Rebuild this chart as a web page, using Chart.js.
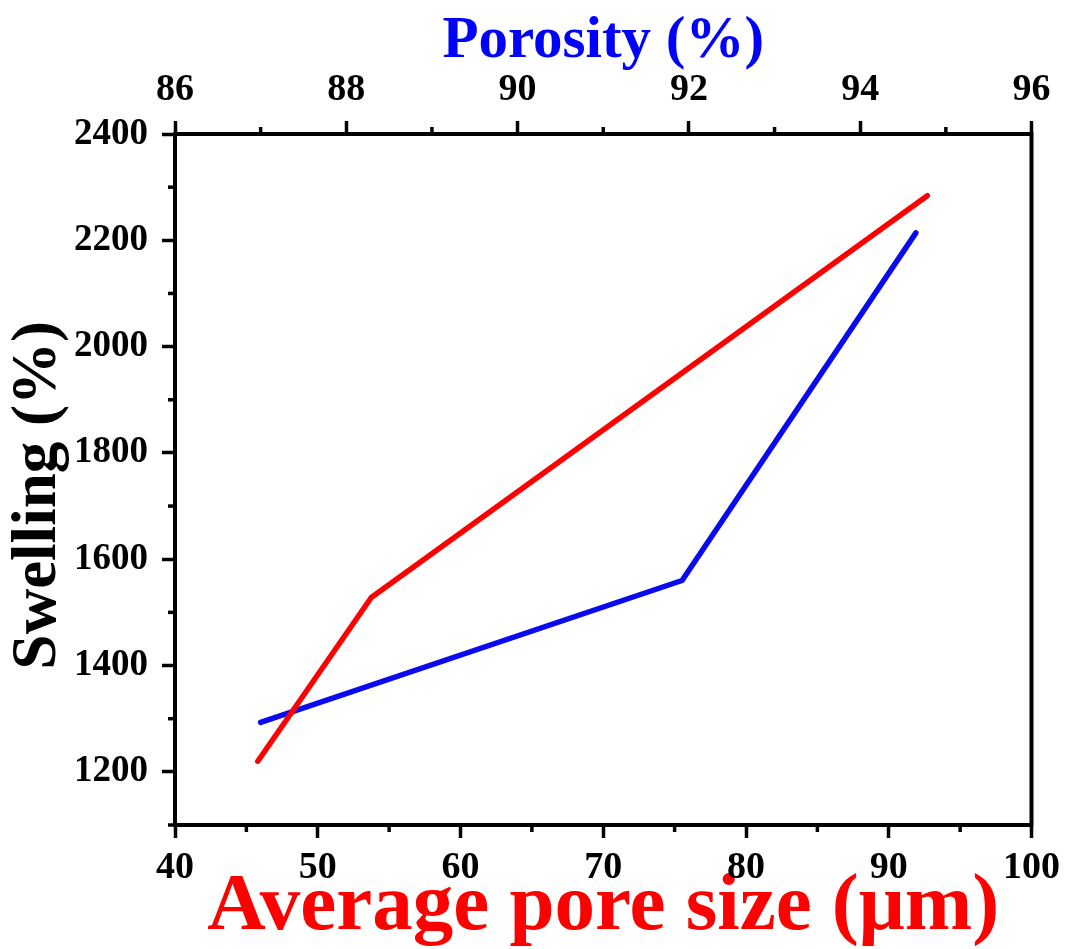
<!DOCTYPE html>
<html>
<head>
<meta charset="utf-8">
<script src="https://cdn.jsdelivr.net/npm/chart.js@4/dist/chart.umd.min.js"></script>
<style>
  html, body { margin: 0; padding: 0; background: #ffffff; }
  #wrap { width: 1067px; height: 949px; position: relative; }
</style>
</head>
<body>
<div id="wrap"><canvas id="chart"></canvas></div>
<script>
// Average pore size (µm) vs swelling (%)
const poreSize = [45.8, 53.75, 92.7];
const swellingByPore = [1220, 1528, 2284];

// Porosity (%) vs swelling (%)
const porosity = [87.0, 91.92, 94.65];
const swellingByPorosity = [1293, 1560, 2214];

// Axis ranges and tick steps
const poreRange = [40, 100], poreStep = 10;
const porosityRange = [86, 96], porosityStep = 2;
const swellingRange = [1100, 2400], swellingStep = 200;

const FONT = "'Liberation Serif', 'Times New Roman', serif";
const AXIS_W = 4;
const MAJOR_LEN = 13;
const MINOR_LEN = 7;

const toPoints = (xs, ys) => xs.map((x, i) => ({ x: x, y: ys[i] }));
const plainNumber = v => String(v);

// Minor ticks halfway between major ticks, plus the closed right-hand frame edge
const frameAndMinorTicks = {
  id: 'frameAndMinorTicks',
  afterDraw(chart) {
    const ctx = chart.ctx;
    const area = chart.chartArea;
    ctx.save();
    ctx.strokeStyle = '#000';
    ctx.lineWidth = AXIS_W;
    ctx.lineCap = 'butt';
    // right edge
    ctx.beginPath();
    ctx.moveTo(area.right, area.top - AXIS_W / 2);
    ctx.lineTo(area.right, area.bottom + AXIS_W / 2);
    ctx.stroke();

    ctx.lineWidth = 3.5;
    const minorValues = (scale, step) => {
      const vals = [];
      for (let v = scale.min + step / 2; v < scale.max; v += step) vals.push(v);
      return vals;
    };
    const sx = chart.scales.x, sx2 = chart.scales.x2, sy = chart.scales.y;
    minorValues(sx, poreStep).forEach(v => {
      const p = sx.getPixelForValue(v);
      ctx.beginPath(); ctx.moveTo(p, area.bottom); ctx.lineTo(p, area.bottom + MINOR_LEN); ctx.stroke();
    });
    minorValues(sx2, porosityStep).forEach(v => {
      const p = sx2.getPixelForValue(v);
      ctx.beginPath(); ctx.moveTo(p, area.top); ctx.lineTo(p, area.top - MINOR_LEN); ctx.stroke();
    });
    for (let v = swellingRange[0]; v < swellingRange[1]; v += swellingStep / 2) {
      if (v % swellingStep === 0) continue;
      const p = sy.getPixelForValue(v);
      ctx.beginPath(); ctx.moveTo(area.left, p); ctx.lineTo(area.left - MINOR_LEN, p); ctx.stroke();
    }
    ctx.restore();
  }
};

const axisCommon = {
  type: 'linear',
  border: { display: true, color: '#000', width: AXIS_W },
  grid: { drawOnChartArea: false, drawTicks: true, tickLength: MAJOR_LEN, tickWidth: 3.5, tickColor: '#000' }
};

new Chart(document.getElementById('chart'), {
  type: 'line',
  data: {
    datasets: [
      {
        label: 'Average pore size',
        data: toPoints(poreSize, swellingByPore),
        xAxisID: 'x', yAxisID: 'y',
        borderColor: '#ff0000',
        borderWidth: 5.5,
        borderCapStyle: 'round',
        borderJoinStyle: 'round',
        pointRadius: 0,
        tension: 0
      },
      {
        label: 'Porosity',
        data: toPoints(porosity, swellingByPorosity),
        xAxisID: 'x2', yAxisID: 'y',
        borderColor: '#0a0aee',
        borderWidth: 5.5,
        borderCapStyle: 'round',
        borderJoinStyle: 'round',
        pointRadius: 0,
        tension: 0
      }
    ]
  },
  options: {
    responsive: true,
    maintainAspectRatio: false,
    animation: false,
    layout: { padding: { left: 0, right: 34, top: 0, bottom: 0 } },
    plugins: { legend: { display: false }, tooltip: { enabled: false } },
    scales: {
      x: Object.assign({}, axisCommon, {
        position: 'bottom',
        min: poreRange[0], max: poreRange[1],
        ticks: { stepSize: poreStep, color: '#000', padding: 7, maxRotation: 0, autoSkip: false,
                 callback: plainNumber,
                 font: { family: FONT, size: 38, weight: 'bold', lineHeight: 1.2 } },
        title: { display: true, text: 'Average pore size (μm)', color: '#ff0000',
                 padding: { top: 0, bottom: 0 },
                 font: { family: FONT, size: 81, weight: 'bold', lineHeight: 1 } },
        afterFit(scale) { scale.height = 124; }
      }),
      x2: Object.assign({}, axisCommon, {
        position: 'top',
        min: porosityRange[0], max: porosityRange[1],
        ticks: { stepSize: porosityStep, color: '#000', padding: 8, maxRotation: 0, autoSkip: false,
                 callback: plainNumber,
                 font: { family: FONT, size: 38, weight: 'bold', lineHeight: 1.2 } },
        title: { display: true, text: 'Porosity (%)', color: '#0000ff',
                 padding: { top: 12, bottom: 0 },
                 font: { family: FONT, size: 59, weight: 'bold', lineHeight: 1 } },
        afterFit(scale) { scale.height = 134; }
      }),
      y: Object.assign({}, axisCommon, {
        position: 'left',
        min: swellingRange[0], max: swellingRange[1],
        ticks: { stepSize: swellingStep, includeBounds: false, color: '#000', padding: 14,
                 callback: plainNumber,
                 font: { family: FONT, size: 37, weight: 'bold', lineHeight: 1.2 } },
        title: { display: true, text: 'Swelling (%)\u2002', color: '#000',
                 padding: { top: 7, bottom: 0 },
                 font: { family: FONT, size: 63, weight: 'bold', lineHeight: 1 } },
        afterFit(scale) { scale.width = 175; }
      })
    }
  },
  plugins: [frameAndMinorTicks]
});
</script>
</body>
</html>
